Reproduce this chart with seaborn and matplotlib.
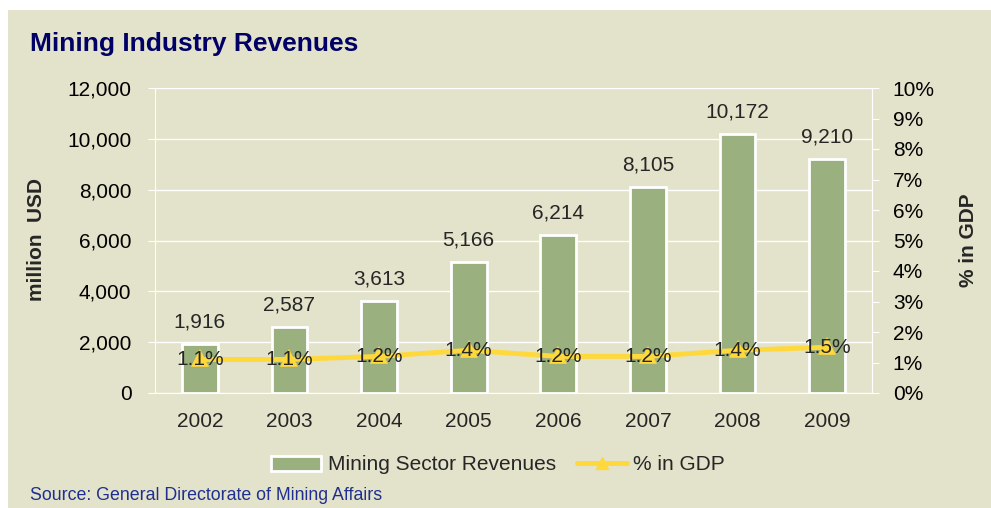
import matplotlib
matplotlib.use("Agg")
import matplotlib.pyplot as plt
import matplotlib.ticker as mticker
from matplotlib.patches import Patch, Rectangle
from matplotlib.lines import Line2D
import pandas as pd
import seaborn as sns

# data
years = ["2002", "2003", "2004", "2005", "2006", "2007", "2008", "2009"]
revenues = [1916, 2587, 3613, 5166, 6214, 8105, 10172, 9210]
pct_gdp = [1.1, 1.1, 1.2, 1.4, 1.2, 1.2, 1.4, 1.5]

bg = "#E3E2CA"
bar_color = "#9BB07F"
line_color = "#FFD83B"
fs = 15

sns.set_style("white")
plt.rcParams["font.family"] = ["Liberation Sans", "DejaVu Sans"]

df = pd.DataFrame({"year": years, "rev": revenues, "pct": pct_gdp})

fig = plt.figure(figsize=(9.91, 5.08), dpi=100)
fig.patch.set_facecolor("white")
# beige panel (small white margin top/left)
fig.patches.append(Rectangle((8 / 991, 0), 1, 1 - 10 / 508, transform=fig.transFigure,
                             facecolor=bg, edgecolor="none", zorder=-10))

ax = fig.add_axes([155 / 991, 1 - 393 / 508, (872 - 155) / 991, (393 - 88) / 508])
ax.set_facecolor(bg)
sns.barplot(data=df, x="year", y="rev", color=bar_color, width=0.4,
            edgecolor="white", linewidth=2, saturation=1, ax=ax, zorder=2)
ax.set_ylim(0, 12000)
ax.set_xlim(-0.5, len(years) - 0.5)
ax.yaxis.set_major_locator(mticker.MultipleLocator(2000))
ax.yaxis.set_major_formatter(mticker.FuncFormatter(lambda v, p: f"{v:,.0f}"))
ax.grid(axis="y", color="white", linewidth=1, zorder=0)
ax.set_axisbelow(True)
ax.spines["top"].set_visible(False)
for s in ["left", "bottom", "right"]:
    ax.spines[s].set_color("white")
ax.tick_params(axis="y", colors="white", labelcolor="black", labelsize=fs, length=5, pad=12)
ax.tick_params(axis="x", length=0, labelsize=fs, pad=14)
# small ticks between categories
ax.xaxis.set_minor_locator(mticker.FixedLocator([i + 0.5 for i in range(-1, len(years))]))
ax.tick_params(axis="x", which="minor", length=6, colors="white", direction="inout")
ax.set_xlabel("")
ax.set_ylabel("million  USD", fontsize=fs, fontweight="bold")
ax.yaxis.set_label_coords(-0.152, 0.502)

for bar, v in zip(ax.patches, revenues):
    ax.annotate(f"{v:,}", (bar.get_x() + bar.get_width() / 2, bar.get_height()),
                xytext=(0, 9), textcoords="offset points", ha="center", va="bottom",
                fontsize=fs)

ax2 = ax.twinx()
sns.pointplot(data=df, x="year", y="pct", color=line_color, markers="^",
              linestyles="-", ax=ax2, markersize=9, linewidth=3.5, zorder=3)
ax2.set_xlim(-0.5, len(years) - 0.5)
ax2.set_ylim(0, 10)
ax2.yaxis.set_major_locator(mticker.MultipleLocator(1))
ax2.yaxis.set_major_formatter(mticker.FuncFormatter(lambda v, p: f"{v:.0f}%"))
for s in ["top", "left", "bottom"]:
    ax2.spines[s].set_visible(False)
ax2.spines["right"].set_color("white")
ax2.tick_params(axis="y", colors="white", labelcolor="black", labelsize=fs, length=5, pad=10)
ax2.set_ylabel("% in GDP", fontsize=fs, fontweight="bold", rotation=90)
ax2.yaxis.set_label_coords(1.122, 0.502)
ax2.set_xlabel("")
for i, v in enumerate(pct_gdp):
    ax2.text(i, v, f"{v:.1f}%", ha="center", va="center", fontsize=fs, zorder=5)

fig.text(30 / 991, 1 - 44 / 508, "Mining Industry Revenues", fontsize=19,
         fontweight="bold", color="#000066", va="center", ha="left")
fig.text(30 / 991, 1 - 495 / 508, "Source: General Directorate of Mining Affairs",
         fontsize=12.8, color="#1F2F8F", va="center", ha="left")

handles = [Patch(facecolor=bar_color, edgecolor="white", linewidth=2),
           Line2D([0], [0], color=line_color, lw=3.5, marker="^", markersize=8)]
fig.legend(handles, ["Mining Sector Revenues", "% in GDP"], loc="center",
           bbox_to_anchor=(498 / 991, 1 - 465 / 508), ncol=2, frameon=False,
           fontsize=fs, handlelength=2.4, columnspacing=1.0, handletextpad=0.3)

fig.savefig("out.png", dpi=100, facecolor=fig.get_facecolor())
